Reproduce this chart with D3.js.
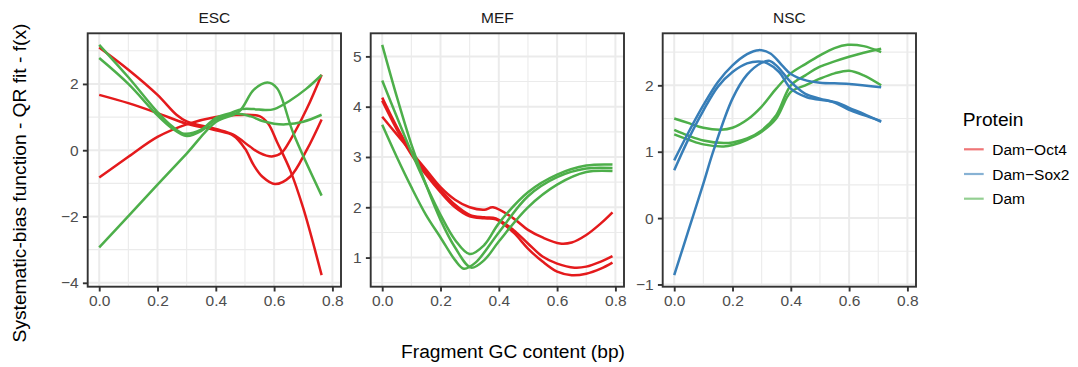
<!DOCTYPE html>
<html><head><meta charset="utf-8">
<script src="https://cdn.jsdelivr.net/npm/d3@7"></script>
<style>
body{margin:0;background:#fff}
text{font-family:"Liberation Sans",Arial,Helvetica,sans-serif}
</style>
</head><body><svg id="chart" width="1078" height="367"></svg>
<script>
// ---------------- data ----------------
const panels = ["ESC", "MEF", "NSC"];
const proteins = ["Dam−Oct4", "Dam−Sox2", "Dam"];
const proteinColors = ["#E41A1C", "#377EB8", "#4DAF4A"];
const xTicks = [0, 0.2, 0.4, 0.6, 0.8];
const yTicksESC = [-4, -2, 0, 2];
const yTicksMEF = [1, 2, 3, 4, 5];
const yTicksNSC = [-1, 0, 1, 2];

// ESC, Dam-Oct4
const escOct4A = [[0,3.1],[0.1,2.43],[0.2,1.67],[0.265,1.07],[0.3,0.87],[0.4,0.64],[0.46,0.47],[0.517,0.11],[0.55,-0.08],[0.592,-0.19],[0.625,-0.08],[0.655,0.3],[0.712,1.25],[0.763,2.28]];
const escOct4B = [[0,1.67],[0.1,1.42],[0.2,1.12],[0.3,0.8],[0.4,0.6],[0.46,0.44],[0.5,0.05],[0.53,-0.45],[0.56,-0.8],[0.603,-1.02],[0.655,-0.8],[0.712,0.01],[0.763,0.93]];
const escOct4C = [[0,-0.82],[0.1,-0.2],[0.2,0.4],[0.3,0.78],[0.4,1.0],[0.47,1.06],[0.55,1.03],[0.58,0.8],[0.61,0.25],[0.655,-0.6],[0.7,-1.75],[0.763,-3.77]];
// ESC, Dam
const escDamA = [[0,3.18],[0.1,2.2],[0.2,1.15],[0.25,0.72],[0.29,0.5],[0.35,0.62],[0.4,0.98],[0.45,1.12],[0.49,1.24],[0.53,1.24],[0.57,1.21],[0.6,1.24],[0.655,1.5],[0.71,1.85],[0.763,2.27]];
const escDamB = [[0,2.78],[0.1,2.0],[0.2,1.05],[0.25,0.66],[0.3,0.43],[0.35,0.58],[0.4,0.92],[0.47,1.1],[0.52,1.02],[0.56,0.88],[0.6,0.8],[0.64,0.78],[0.7,0.86],[0.763,1.07]];
const escDamC = [[0,-2.93],[0.1,-1.99],[0.2,-1.04],[0.3,-0.1],[0.4,0.85],[0.48,1.17],[0.53,1.82],[0.577,2.04],[0.61,1.87],[0.666,0.51],[0.763,-1.37]];
// MEF, Dam-Oct4
const mefOct4A = [[0,3.8],[0.05,3.45],[0.1,3.1],[0.15,2.75],[0.2,2.4],[0.25,2.15],[0.3,2.0],[0.35,1.95],[0.38,2.0],[0.45,1.78],[0.5,1.55],[0.55,1.4],[0.61,1.28],[0.65,1.3],[0.7,1.45],[0.75,1.68],[0.79,1.9]];
const mefOct4B = [[0,4.18],[0.05,3.6],[0.1,3.1],[0.15,2.7],[0.2,2.35],[0.25,2.05],[0.3,1.85],[0.35,1.8],[0.39,1.78],[0.45,1.55],[0.5,1.28],[0.55,1.02],[0.6,0.88],[0.66,0.8],[0.7,0.82],[0.75,0.92],[0.79,1.03]];
const mefOct4C = [[0,4.12],[0.05,3.55],[0.1,3.05],[0.15,2.65],[0.2,2.3],[0.25,2.0],[0.3,1.82],[0.35,1.78],[0.39,1.76],[0.45,1.5],[0.5,1.18],[0.55,0.92],[0.6,0.72],[0.65,0.65],[0.7,0.68],[0.75,0.78],[0.79,0.9]];
// MEF, Dam
const mefDamA = [[0,4.52],[0.05,3.8],[0.1,3.1],[0.15,2.45],[0.2,1.85],[0.25,1.35],[0.3,1.07],[0.35,1.25],[0.4,1.68],[0.5,2.3],[0.6,2.65],[0.7,2.83],[0.79,2.85]];
const mefDamB = [[0,3.64],[0.05,3.0],[0.1,2.4],[0.15,1.85],[0.2,1.4],[0.25,0.95],[0.28,0.78],[0.32,0.9],[0.4,1.5],[0.5,2.22],[0.6,2.6],[0.7,2.77],[0.79,2.78]];
const mefDamC = [[0,5.23],[0.05,4.2],[0.1,3.25],[0.15,2.45],[0.2,1.75],[0.25,1.2],[0.305,0.8],[0.35,0.95],[0.4,1.32],[0.5,2.0],[0.6,2.45],[0.7,2.7],[0.79,2.72]];
// NSC, Dam-Sox2
const nscSox2A = [[0,0.87],[0.05,1.3],[0.1,1.7],[0.15,2.05],[0.2,2.3],[0.25,2.47],[0.29,2.53],[0.33,2.48],[0.37,2.3],[0.4,2.17],[0.455,2.07],[0.5,2.04],[0.6,2.02],[0.71,1.97]];
const nscSox2B = [[0,0.72],[0.05,1.2],[0.1,1.62],[0.15,1.98],[0.2,2.2],[0.25,2.33],[0.29,2.36],[0.32,2.33],[0.36,2.2],[0.4,1.95],[0.455,1.82],[0.52,1.77],[0.56,1.74],[0.6,1.66],[0.65,1.57],[0.71,1.45]];
const nscSox2C = [[0,-0.86],[0.05,-0.17],[0.1,0.52],[0.135,1.02],[0.2,1.8],[0.25,2.16],[0.3,2.34],[0.325,2.37],[0.35,2.3],[0.4,2.05],[0.45,1.87],[0.5,1.8],[0.55,1.74],[0.6,1.63],[0.65,1.55],[0.71,1.46]];
// NSC, Dam
const nscDamA = [[0,1.5],[0.05,1.43],[0.1,1.36],[0.16,1.33],[0.2,1.36],[0.25,1.48],[0.3,1.68],[0.35,1.95],[0.4,2.18],[0.45,2.32],[0.5,2.45],[0.55,2.56],[0.595,2.61],[0.65,2.59],[0.71,2.5]];
const nscDamB = [[0,1.33],[0.05,1.24],[0.1,1.17],[0.17,1.13],[0.2,1.14],[0.25,1.2],[0.3,1.32],[0.35,1.55],[0.4,2.0],[0.45,2.15],[0.5,2.28],[0.55,2.36],[0.6,2.43],[0.65,2.49],[0.71,2.55]];
const nscDamC = [[0,1.26],[0.05,1.18],[0.1,1.11],[0.17,1.08],[0.2,1.1],[0.25,1.18],[0.3,1.3],[0.35,1.5],[0.4,1.9],[0.45,2.0],[0.5,2.1],[0.55,2.18],[0.6,2.22],[0.65,2.15],[0.71,2.0]];

// table built from arrays
const series = [
  {panel:0, protein:0, pts:escOct4A},{panel:0, protein:0, pts:escOct4B},{panel:0, protein:0, pts:escOct4C},
  {panel:0, protein:2, pts:escDamA},{panel:0, protein:2, pts:escDamB},{panel:0, protein:2, pts:escDamC},
  {panel:1, protein:0, pts:mefOct4A},{panel:1, protein:0, pts:mefOct4B},{panel:1, protein:0, pts:mefOct4C},
  {panel:1, protein:2, pts:mefDamA},{panel:1, protein:2, pts:mefDamB},{panel:1, protein:2, pts:mefDamC},
  {panel:2, protein:2, pts:nscDamA},{panel:2, protein:2, pts:nscDamB},{panel:2, protein:2, pts:nscDamC},
  {panel:2, protein:1, pts:nscSox2A},{panel:2, protein:1, pts:nscSox2B},{panel:2, protein:1, pts:nscSox2C}
];
const yTicksAll = [yTicksESC, yTicksMEF, yTicksNSC];

// ---------------- layout ----------------
const svg = d3.select("#chart");
const panelLeft = [87.7, 370.7, 662.7];
const panelW = 253.3, panelTop = 33.3, panelH = 253.4;
const small = 15.5, base = 19.2;

function expand(ext, m) { const d = ext[1]-ext[0]; return [ext[0]-d*m, ext[1]+d*m]; }
const allX = series.flatMap(s => s.pts.map(p => p[0]));
const xDomain = expand(d3.extent(allX), 0.05);

function minorBreaks(ticks, dom) {
  const step = ticks[1]-ticks[0];
  const out = [];
  for (let v = ticks[0]-step/2; v <= ticks[ticks.length-1]+step/2 + 1e-9; v += step) {
    if (v >= dom[0] && v <= dom[1]) out.push(v);
  }
  return out;
}

panels.forEach((name, i) => {
  const g = svg.append("g").attr("transform", `translate(${panelLeft[i]},${panelTop})`);
  const ys = series.filter(s => s.panel === i).flatMap(s => s.pts.map(p => p[1]));
  const yDomain = expand(d3.extent(ys), 0.05);
  const x = d3.scaleLinear().domain(xDomain).range([0, panelW]);
  const y = d3.scaleLinear().domain(yDomain).range([panelH, 0]);
  const yt = yTicksAll[i];

  // grid minor
  g.append("g").selectAll("line").data(minorBreaks(xTicks, xDomain)).join("line")
    .attr("x1", d => x(d)).attr("x2", d => x(d)).attr("y1", 0).attr("y2", panelH)
    .attr("stroke", "#EBEBEB").attr("stroke-width", 1.1);
  g.append("g").selectAll("line").data(minorBreaks(yt, yDomain)).join("line")
    .attr("x1", 0).attr("x2", panelW).attr("y1", d => y(d)).attr("y2", d => y(d))
    .attr("stroke", "#EBEBEB").attr("stroke-width", 1.1);
  // grid major
  g.append("g").selectAll("line").data(xTicks).join("line")
    .attr("x1", d => x(d)).attr("x2", d => x(d)).attr("y1", 0).attr("y2", panelH)
    .attr("stroke", "#EBEBEB").attr("stroke-width", 2);
  g.append("g").selectAll("line").data(yt).join("line")
    .attr("x1", 0).attr("x2", panelW).attr("y1", d => y(d)).attr("y2", d => y(d))
    .attr("stroke", "#EBEBEB").attr("stroke-width", 2);

  // lines
  const line = d3.line().x(d => x(d[0])).y(d => y(d[1])).curve(d3.curveCatmullRom.alpha(0.5));
  g.append("g").selectAll("path").data(series.filter(s => s.panel === i)).join("path")
    .attr("d", s => line(s.pts)).attr("fill", "none")
    .attr("stroke", s => proteinColors[s.protein]).attr("stroke-width", 2.5)
    .attr("stroke-linejoin", "round").attr("stroke-linecap", "butt");

  // border
  g.append("rect").attr("x", 0).attr("y", 0).attr("width", panelW).attr("height", panelH)
    .attr("fill", "none").attr("stroke", "#333333").attr("stroke-width", 1.9);

  // axes
  const xAxis = d3.axisBottom(x).tickValues(xTicks).tickFormat(d3.format(".1f"))
    .tickSize(4.8).tickPadding(4);
  const gx = g.append("g").attr("transform", `translate(0,${panelH})`).call(xAxis);
  const yAxis = d3.axisLeft(y).tickValues(yt).tickFormat(d3.format("d"))
    .tickSize(4.8).tickPadding(4.2);
  const gy = g.append("g").call(yAxis);
  [gx, gy].forEach(a => {
    a.select(".domain").remove();
    a.selectAll(".tick line").attr("stroke", "#333333").attr("stroke-width", 1.9);
    a.selectAll(".tick text").attr("fill", "#4D4D4D").style("font-size", small + "px")
      .style("font-family", '"Liberation Sans", Arial, sans-serif');
  });

  // strip label
  svg.append("text").attr("x", panelLeft[i] + panelW/2).attr("y", 23.3)
    .attr("text-anchor", "middle").attr("fill", "#1A1A1A").style("font-size", small + "px").text(name);
});

// axis titles
svg.append("text").attr("x", 513).attr("y", 357.5).attr("text-anchor", "middle")
  .style("font-size", base + "px").attr("fill", "#000").text("Fragment GC content (bp)");
svg.append("text").attr("transform", "translate(26,183) rotate(-90)").attr("text-anchor", "middle")
  .style("font-size", base + "px").attr("fill", "#000").text("Systematic-bias function - QR fit - f(x)");

// legend
const leg = svg.append("g");
leg.append("text").attr("x", 962.7).attr("y", 125.7).style("font-size", base + "px").attr("fill", "#000").text("Protein");
const legRowY = [149.3, 174, 198.7];
proteins.forEach((p, k) => {
  leg.append("line").attr("x1", 964).attr("x2", 983.7).attr("y1", legRowY[k]).attr("y2", legRowY[k])
    .attr("stroke", proteinColors[k]).attr("stroke-width", 2.2).attr("stroke-opacity", 0.6);
  leg.append("text").attr("x", 992.3).attr("y", legRowY[k] + 5.5).style("font-size", small + "px")
    .attr("fill", "#000").text(p);
});
</script>
</body></html>
